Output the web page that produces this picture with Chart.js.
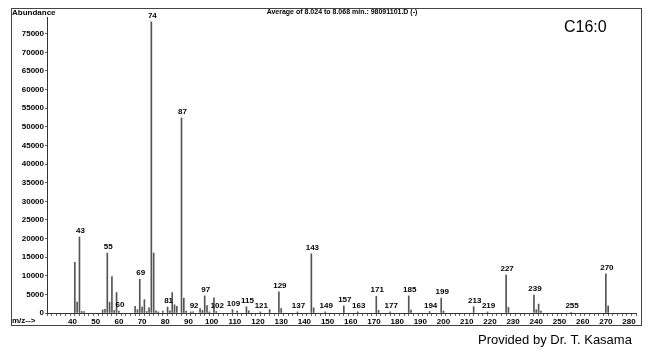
<!DOCTYPE html>
<html>
<head>
<meta charset="utf-8">
<script src="https://cdn.jsdelivr.net/npm/chart.js@4/dist/chart.umd.min.js"></script>
<style>
html,body{margin:0;padding:0;background:#fff;}
#wrap{width:650px;height:356px;position:relative;}
</style>
</head>
<body>
<div id="wrap"><canvas id="c" width="650" height="356"></canvas></div>
<script>
// m/z values of the peaks
const mz = [41,42,43,44,45,53,54,55,56,57,58,59,60,67,68,69,70,71,72,73,74,75,76,77,79,81,82,83,84,85,87,88,89,91,92,95,96,97,98,99,101,102,109,111,115,116,121,125,129,130,137,143,144,149,157,163,171,172,177,185,186,194,199,200,213,219,227,228,239,240,241,242,255,270,271];
// abundance of each peak
const abundance = [13600,2900,20400,400,400,800,1000,16100,2900,9800,700,5500,500,1800,900,9100,1600,3600,400,1400,78200,16100,600,300,500,1600,600,5500,2200,1800,52400,4000,500,300,300,1200,700,4600,2000,300,4100,400,900,500,1700,600,300,900,5700,1200,300,15900,1400,300,1900,300,4500,700,300,4600,800,400,4000,500,1700,300,10200,1500,4800,900,2400,500,200,10500,1900];
// peaks that carry an m/z label
const labeledPeaks = [43,55,60,69,74,81,87,92,97,102,109,115,121,129,137,143,149,157,163,171,177,185,194,199,213,219,227,239,255,270];
// axis tick values
const xLabelTicks = [40,50,60,70,80,90,100,110,120,130,140,150,160,170,180,190,200,210,220,230,240,250,260,270,280];
const yLabelTicks = [0,5000,10000,15000,20000,25000,30000,35000,40000,45000,50000,55000,60000,65000,70000,75000];

const titleText = 'Average of 8.024 to 8.068 min.: 98091101.D (-)';
const compoundText = 'C16:0';
const creditText = 'Provided by Dr. T. Kasama';

const FONT = '"Liberation Sans", Arial, sans-serif';

const decor = {
  id: 'decor',
  beforeDraw(chart) {
    const ctx = chart.ctx;
    ctx.save();
    ctx.fillStyle = '#fff';
    ctx.fillRect(0, 0, chart.width, chart.height);
    ctx.restore();
  },
  afterDraw(chart) {
    const ctx = chart.ctx;
    const xs = chart.scales.x, ys = chart.scales.y;
    ctx.save();
    // frame
    ctx.strokeStyle = '#444';
    ctx.lineWidth = 1;
    ctx.strokeRect(11.5, 8.5, 630, 317);
    // header texts
    ctx.fillStyle = '#000';
    ctx.font = 'bold 8px ' + FONT;
    ctx.textAlign = 'left';
    ctx.textBaseline = 'middle';
    ctx.fillText('Abundance', 12, 13);
    ctx.fillText('m/z-->', 12, 321);
    ctx.font = 'bold 7px ' + FONT;
    ctx.textAlign = 'center';
    ctx.fillText(titleText, 342, 12);
    ctx.font = '16px ' + FONT;
    ctx.textAlign = 'left';
    ctx.fillText(compoundText, 564, 28);
    ctx.font = '13px ' + FONT;
    ctx.fillText(creditText, 478, 340);
    // peak labels
    ctx.font = 'bold 8px ' + FONT;
    ctx.textAlign = 'center';
    ctx.textBaseline = 'bottom';
    labeledPeaks.forEach(m => {
      const i = mz.indexOf(m);
      if (i < 0) return;
      const px = xs.getPixelForValue(m);
      const py = ys.getPixelForValue(abundance[i]);
      ctx.fillText(String(m), px + 1, py - 2);
    });
    ctx.restore();
  }
};

new Chart(document.getElementById('c'), {
  type: 'bar',
  data: {
    datasets: [{
      data: mz.map((m, i) => ({x: m, y: abundance[i]})),
      backgroundColor: '#555',
      borderWidth: 0,
      barThickness: 1
    }]
  },
  options: {
    responsive: false,
    animation: false,
    layout: {padding: {left: 0, top: 17, right: 14, bottom: 29}},
    plugins: {legend: {display: false}, tooltip: {enabled: false}},
    scales: {
      x: {
        type: 'linear',
        min: 30, max: 282,
        afterBuildTicks(scale) {
          const t = [];
          for (let v = 30; v <= 282; v += 2) t.push({value: v});
          scale.ticks = t;
        },
        afterFit(scale) { scale.height = 14; },
        ticks: {
          autoSkip: false, maxRotation: 0, padding: 1,
          color: '#000',
          font: {family: FONT, size: 8, weight: 'bold'},
          callback: v => xLabelTicks.includes(v) ? String(v) : ''
        },
        grid: {drawOnChartArea: false, drawTicks: true, tickLength: 3, color: '#666'},
        border: {display: true, color: '#333', width: 1}
      },
      y: {
        min: 0, max: 79500,
        afterBuildTicks(scale) {
          scale.ticks = yLabelTicks.map(v => ({value: v}));
        },
        afterFit(scale) { scale.width = 47; },
        ticks: {
          padding: 1, color: '#000',
          font: {family: FONT, size: 8, weight: 'bold'},
          callback: v => String(v)
        },
        grid: {drawOnChartArea: false, drawTicks: true, tickLength: 2, color: '#666'},
        border: {display: true, color: '#333', width: 1}
      }
    }
  },
  plugins: [decor]
});
</script>
</body>
</html>
